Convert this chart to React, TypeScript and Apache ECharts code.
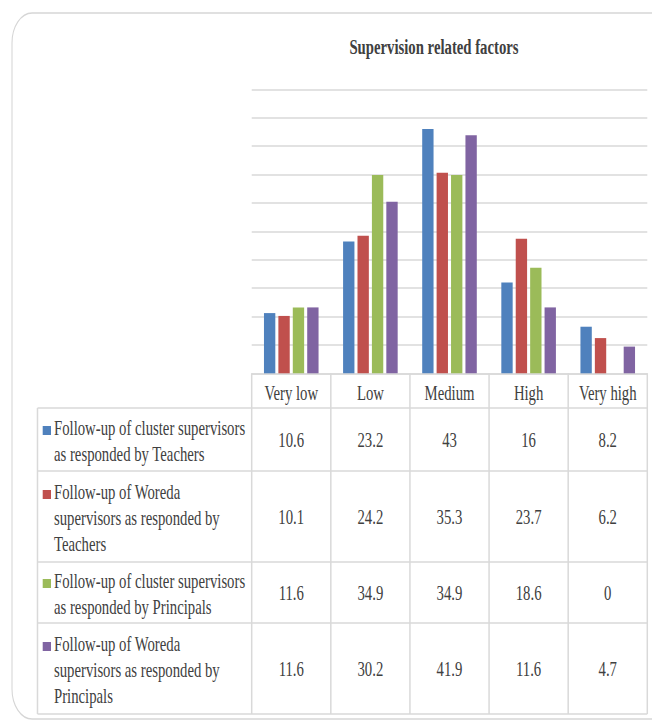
import React, { useEffect, useRef } from "react";
import * as echarts from "echarts";

// ---- data ----
const categories = ["Very low", "Low", "Medium", "High", "Very high"];
const seriesNames = [
  "Follow-up of cluster supervisors\nas responded by Teachers",
  "Follow-up of Woreda\nsupervisors as responded by\nTeachers",
  "Follow-up of cluster supervisors\nas responded by Principals",
  "Follow-up of Woreda\nsupervisors as responded by\nPrincipals",
];
const clusterTeachers = [10.6, 23.2, 43, 16, 8.2];
const woredaTeachers = [10.1, 24.2, 35.3, 23.7, 6.2];
const clusterPrincipals = [11.6, 34.9, 34.9, 18.6, 0];
const woredaPrincipals = [11.6, 30.2, 41.9, 11.6, 4.7];
const seriesValues = [clusterTeachers, woredaTeachers, clusterPrincipals, woredaPrincipals];
const colors = ["#4F81BD", "#C0504D", "#9BBB59", "#8064A2"];
const titleText = "Supervision related factors";

// ---- layout (horizontal squeeze of the original picture) ----
const S = 0.67;
const W = Math.round(652 / S);
const H = 720;
const FONT = '"Liberation Serif", "Times New Roman", serif';
const TEXT = "#404040";
const LINE = "#d9d9d9";
const rowBounds = [408, 471, 562, 623, 714];
const tableLeft = 37.5 / S;
const lh = 26;

export default function App() {
  const ref = useRef<HTMLDivElement>(null);
  useEffect(() => {
    if (!ref.current) return;
    const chart = echarts.init(ref.current, null, { renderer: "svg" });
    chart.setOption({
      animation: false,
      backgroundColor: "#ffffff",
      grid: { left: 251.7 / S, right: W - 647.3 / S, top: 89.3, bottom: H - 373.3 },
      xAxis: {
        type: "category",
        data: categories,
        axisLine: { show: true, lineStyle: { color: LINE, width: 1.5 } },
        axisTick: { show: false },
        axisLabel: {
          color: TEXT,
          fontFamily: FONT,
          fontSize: 22,
          margin: 19,
          verticalAlign: "middle",
        },
      },
      yAxis: {
        type: "value",
        min: 0,
        max: 50,
        interval: 5,
        axisLabel: { show: false },
        axisLine: { show: false },
        axisTick: { show: false },
        splitLine: { lineStyle: { color: LINE, width: 1.6 } },
      },
      series: seriesValues.map((vals, i) => ({
        type: "bar",
        name: seriesNames[i],
        data: vals,
        barGap: "27%",
        barCategoryGap: "31%",
        itemStyle: { color: colors[i] },
      })),
    });

    const cx = categories.map((c) => chart.convertToPixel({ xAxisIndex: 0 }, c) as number);
    const band = cx[1] - cx[0];
    const bounds = cx.map((x) => x - band / 2).concat([cx[cx.length - 1] + band / 2]);
    const axisY = chart.convertToPixel({ yAxisIndex: 0 }, 0) as number;
    const right = bounds[bounds.length - 1];
    const vW = 1.5 / S;

    const els: any[] = [];
    // frame
    els.push({
      type: "rect",
      shape: { x: 12 / S, y: 13, width: W * 1.5, height: 706, r: 30 },
      style: { fill: "none", stroke: "#d6d6d6", lineWidth: 1.6 },
      silent: true,
    });
    // title
    els.push({
      type: "text",
      x: 434 / S,
      y: 46,
      style: {
        text: titleText,
        fill: TEXT,
        fontFamily: FONT,
        fontSize: 22,
        fontWeight: "bold",
        align: "center",
        textAlign: "center",
        verticalAlign: "middle",
        textVerticalAlign: "middle",
      },
    });
    // table vertical lines (category boundaries)
    bounds.forEach((x) => {
      els.push({
        type: "line",
        shape: { x1: x, y1: axisY, x2: x, y2: rowBounds[rowBounds.length - 1] },
        style: { stroke: LINE, lineWidth: vW },
      });
    });
    els.push({
      type: "line",
      shape: { x1: tableLeft, y1: rowBounds[0], x2: tableLeft, y2: rowBounds[rowBounds.length - 1] },
      style: { stroke: LINE, lineWidth: vW },
    });
    // horizontal lines
    rowBounds.forEach((y) => {
      els.push({
        type: "line",
        shape: { x1: tableLeft, y1: y, x2: right, y2: y },
        style: { stroke: LINE, lineWidth: 1.6 },
      });
    });
    // rows
    seriesValues.forEach((vals, r) => {
      const yc = (rowBounds[r] + rowBounds[r + 1]) / 2;
      vals.forEach((v, c) => {
        els.push({
          type: "text",
          x: cx[c],
          y: yc,
          style: {
            text: String(v),
            fill: TEXT,
            fontFamily: FONT,
            fontSize: 22,
            align: "center",
            textAlign: "center",
            verticalAlign: "middle",
            textVerticalAlign: "middle",
          },
        });
      });
      const nLines = seriesNames[r].split("\n").length;
      const tc = yc + 1;
      const firstLine = tc - ((nLines - 1) * lh) / 2;
      els.push({
        type: "rect",
        shape: { x: 42.7 / S, y: firstLine - 1.5, width: 8.3 / S, height: 9 },
        style: { fill: colors[r] },
      });
      els.push({
        type: "text",
        x: 54 / S,
        y: tc,
        style: {
          text: seriesNames[r],
          fill: TEXT,
          fontFamily: FONT,
          fontSize: 22,
          lineHeight: lh,
          align: "left",
          textAlign: "left",
          verticalAlign: "middle",
          textVerticalAlign: "middle",
        },
      });
    });

    chart.setOption({ graphic: { elements: els } });
    return () => chart.dispose();
  }, []);

  return (
    <div
      style={{
        position: "absolute",
        left: 0,
        top: 0,
        width: 652,
        height: H,
        overflow: "hidden",
        background: "#ffffff",
      }}
    >
      <div
        ref={ref}
        style={{
          width: W,
          height: H,
          transform: `scaleX(${S})`,
          transformOrigin: "0 0",
        }}
      />
    </div>
  );
}
